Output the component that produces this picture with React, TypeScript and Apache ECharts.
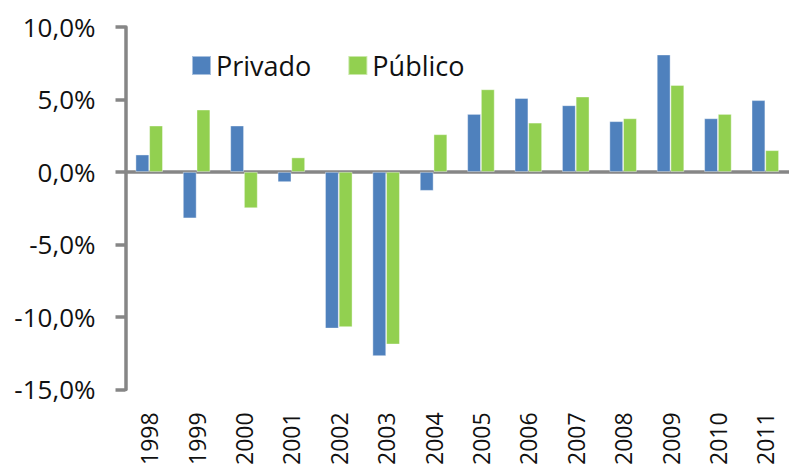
import React, { useEffect, useRef } from "react";
import * as echarts from "echarts";

const years = ["1998", "1999", "2000", "2001", "2002", "2003", "2004", "2005", "2006", "2007", "2008", "2009", "2010", "2011"];
const privado = [1.2, -3.2, 3.2, -0.7, -10.8, -12.7, -1.3, 4.0, 5.1, 4.6, 3.5, 8.1, 3.7, 4.95];
const publico = [3.2, 4.3, -2.5, 1.0, -10.7, -11.9, 2.6, 5.7, 3.4, 5.2, 3.7, 6.0, 4.0, 1.5];
const yTicks = { min: -15, max: 10, interval: 5 };

const FONT = "'Open Sans', 'Liberation Sans', sans-serif";
const AXIS_COLOR = "#868686";

export default function App() {
  const ref = useRef<HTMLDivElement>(null);
  useEffect(() => {
    if (!ref.current) return;
    const chart = echarts.init(ref.current, null, { renderer: "svg" });
    chart.setOption({
      animation: false,
      backgroundColor: "#ffffff",
      textStyle: { fontFamily: FONT },
      legend: {
        data: ["Privado", "Público"],
        left: 191,
        top: 52,
        padding: 0,
        icon: "rect",
        itemWidth: 19,
        itemHeight: 19,
        itemGap: 36,
        textStyle: { fontSize: 27, lineHeight: 26, color: "#111", fontFamily: FONT },
      },
      grid: { left: 125.5, top: 27, width: 667.4, height: 368.3 },
      xAxis: [
        {
          type: "category",
          data: years,
          position: "bottom",
          axisLine: { show: true, onZero: true, lineStyle: { color: AXIS_COLOR, width: 3.5 } },
          axisTick: { show: false },
          axisLabel: { show: false },
          splitLine: { show: false },
        },
        {
          type: "category",
          data: years,
          position: "bottom",
          axisLine: { show: false, onZero: false },
          axisTick: { show: false },
          axisLabel: { show: true, rotate: 90, fontSize: 23, margin: 23, color: "#111", fontFamily: FONT },
          splitLine: { show: false },
        },
      ],
      yAxis: {
        type: "value",
        min: yTicks.min,
        max: yTicks.max,
        interval: yTicks.interval,
        axisLine: { show: true, onZero: false, lineStyle: { color: AXIS_COLOR, width: 3.5 } },
        axisTick: { show: true, length: 10, lineStyle: { color: AXIS_COLOR, width: 3.5 } },
        splitLine: { show: false },
        axisLabel: {
          fontSize: 26,
          margin: 30,
          color: "#111",
          fontFamily: FONT,
          formatter: (v: number) => v.toFixed(1).replace(".", ",") + "%",
        },
      },
      series: [
        {
          name: "Privado",
          type: "bar",
          data: privado,
          xAxisIndex: 0,
          barWidth: 13.7,
          barGap: "0%",
          itemStyle: { color: "#4F81BD", borderColor: "rgba(255,255,255,0.5)", borderWidth: 0.8 },
        },
        {
          name: "Público",
          type: "bar",
          data: publico,
          xAxisIndex: 0,
          barWidth: 13.7,
          barGap: "0%",
          itemStyle: { color: "#92D050", borderColor: "rgba(255,255,255,0.5)", borderWidth: 0.8 },
        },
      ],
    });
    return () => chart.dispose();
  }, []);
  return (
    <div
      ref={ref}
      style={{ position: "absolute", left: 0, top: 0, width: 789, height: 468 }}
    />
  );
}
